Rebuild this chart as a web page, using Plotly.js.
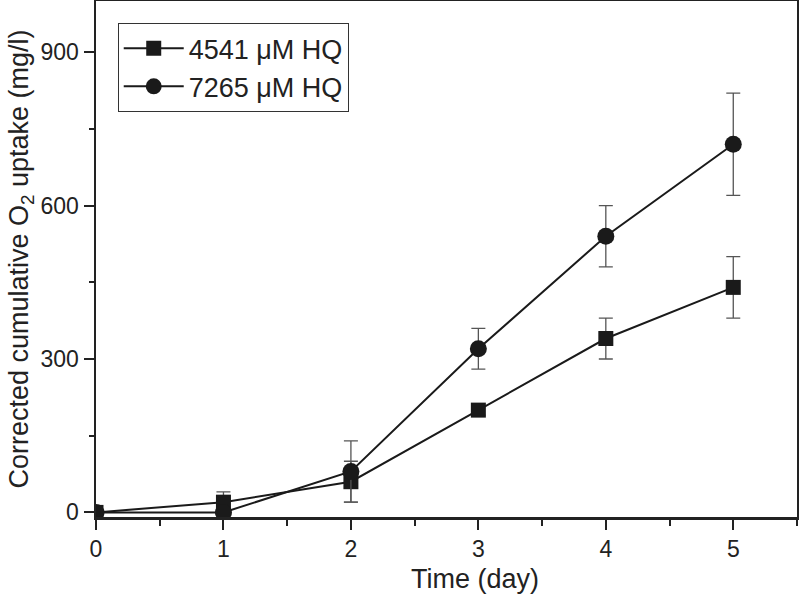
<!DOCTYPE html>
<html>
<head>
<meta charset="utf-8">
<script src="https://cdn.plot.ly/plotly-3.0.1.min.js"></script>
<style>
  html, body { margin: 0; padding: 0; background: #fff; }
  #chart { width: 799px; height: 595px; }
</style>
</head>
<body>
<div id="chart"></div>
<script>
// time points (day)
const days = [0, 1, 2, 3, 4, 5];

// 4541 uM HQ
const hq4541 = [0, 20, 60, 200, 340, 440];
const hq4541Err = [0, 20, 40, 10, 40, 60];

// 7265 uM HQ
const hq7265 = [0, 0, 80, 320, 540, 720];
const hq7265Err = [0, 0, 60, 40, 60, 100];

const xTicks = [0, 1, 2, 3, 4, 5];
const yTicks = [0, 300, 600, 900];

const errStyle = (arr) => ({
    type: 'data', array: arr, visible: true,
    color: '#555', thickness: 1.3, width: 7
});

const traces = [
    {
        x: days, y: hq4541, name: '4541 μM HQ',
        type: 'scatter', mode: 'lines+markers',
        line: { color: '#1a1a1a', width: 2 },
        marker: { symbol: 'square', size: 15, color: '#1a1a1a' },
        error_y: errStyle(hq4541Err)
    },
    {
        x: days, y: hq7265, name: '7265 μM HQ',
        type: 'scatter', mode: 'lines+markers',
        line: { color: '#1a1a1a', width: 2 },
        marker: { symbol: 'circle', size: 17, color: '#1a1a1a' },
        error_y: errStyle(hq7265Err)
    }
];

const fam = 'Liberation Sans, Arial, sans-serif';
const tickFont = { family: fam, size: 23, color: '#222' };
const titleFont = { family: fam, size: 27, color: '#222' };

const layout = {
    width: 799, height: 595,
    margin: { l: 96, r: 2, t: 1, b: 78 },
    paper_bgcolor: '#fff', plot_bgcolor: '#fff',
    font: tickFont,
    showlegend: true,
    legend: {
        x: 0.031, y: 0.957, xanchor: 'left', yanchor: 'top',
        bordercolor: '#333', borderwidth: 1, bgcolor: '#fff',
        font: titleFont, itemwidth: 60,
        tracegroupgap: 0
    },
    xaxis: {
        range: [0, 5.5],
        tickvals: xTicks,
        ticks: 'outside', ticklen: 10, tickwidth: 2, tickcolor: '#222',
        minor: { dtick: 0.5, ticks: 'outside', ticklen: 6, tickwidth: 2, tickcolor: '#222', showgrid: false },
        showline: true, linecolor: '#222', linewidth: 2.5, mirror: true,
        showgrid: false, zeroline: false,
        tickfont: tickFont
    },
    yaxis: {
        range: [-9, 1000],
        tickvals: yTicks,
        ticks: 'outside', ticklen: 10, tickwidth: 2, tickcolor: '#222',
        minor: { dtick: 150, tick0: 0, ticks: 'outside', ticklen: 5, tickwidth: 2, tickcolor: '#222', showgrid: false },
        showline: true, linecolor: '#222', linewidth: 2.5, mirror: true,
        showgrid: false, zeroline: false,
        tickfont: tickFont,
        title: { text: 'Corrected cumulative O<sub>2</sub> uptake (mg/l)', font: titleFont, standoff: 4 }
    },
    annotations: [{
        // x axis title sits a little right of the plot centre in the original
        text: 'Time (day)', font: titleFont, showarrow: false,
        xref: 'paper', yref: 'paper', x: 0.54, y: -0.12,
        xanchor: 'center', yanchor: 'middle'
    }]
};

Plotly.newPlot('chart', traces, layout, { displayModeBar: false, staticPlot: true });
</script>
</body>
</html>
